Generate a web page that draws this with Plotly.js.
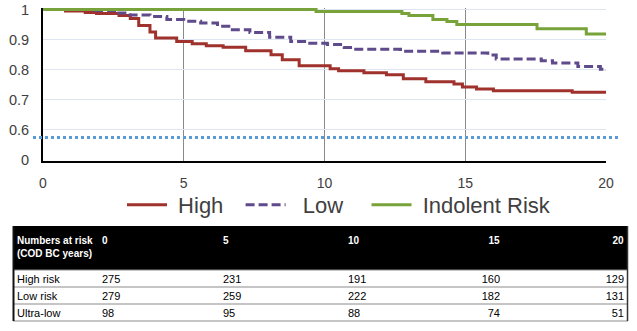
<!DOCTYPE html>
<html>
<head>
<meta charset="utf-8">
<script src="https://cdn.plot.ly/plotly-3.0.1.min.js"></script>
<style>
  html, body { margin: 0; padding: 0; background: #ffffff; overflow: hidden; width: 637px; height: 331px; }
  #chart { width: 637px; height: 331px; overflow: hidden; }
</style>
</head>
<body>
<div id="chart"></div>
<script>
// ---- Survival curves (years, survival probability) ----
const highYears = [0, 0.8, 1.5, 1.9, 2.7, 3.1, 3.4, 3.8, 4.0, 4.75, 5.3, 5.8, 6.4, 7.2, 8.1, 8.5, 9.1, 10.2, 10.5, 11.4, 12.2, 12.8, 13.6, 14.6, 14.9, 15.4, 16.0, 18.8, 20];
const highSurv  = [1, 0.995, 0.99, 0.987, 0.98, 0.97, 0.947, 0.925, 0.905, 0.894, 0.886, 0.88, 0.875, 0.863, 0.85, 0.833, 0.813, 0.803, 0.797, 0.79, 0.783, 0.77, 0.76, 0.753, 0.743, 0.736, 0.73, 0.725, 0.725];

const lowYears = [0, 1.7, 2.6, 3.1, 3.8, 4.4, 5.0, 5.6, 6.2, 6.6, 7.35, 8.05, 8.8, 9.4, 10.1, 10.7, 11.0, 12.7, 14.2, 15.8, 16.1, 17.7, 18.1, 19.0, 19.8, 20];
const lowSurv  = [1, 0.997, 0.988, 0.982, 0.977, 0.967, 0.961, 0.955, 0.944, 0.933, 0.924, 0.908, 0.894, 0.888, 0.884, 0.874, 0.868, 0.861, 0.856, 0.849, 0.836, 0.83, 0.822, 0.811, 0.802, 0.797];

const indolentYears = [0, 9.7, 12.75, 13.0, 13.85, 14.35, 14.7, 17.55, 19.3, 20];
const indolentSurv  = [1, 0.993, 0.987, 0.98, 0.967, 0.96, 0.95, 0.936, 0.919, 0.919];

const seriesNames = ["High", "Low", "Indolent Risk"];
const referenceLevel = [0.575];

// ---- Axis ticks ----
const xTickVals = [0, 5, 10, 15, 20];
const yTickVals = [0.5, 0.6, 0.7, 0.8, 0.9, 1.0];
const yTickText = ["0", "0.6", "0.7", "0.8", "0.9", "1"];

// ---- Numbers at risk table ----
const tableHeader = ["Numbers at risk<br>(COD BC years)", "0", "5", "10", "15", "20"];
const rowLabels = ["High risk", "Low risk", "Ultra-low"];
const atRiskHigh = [275, 231, 191, 160, 129];
const atRiskLow = [279, 259, 222, 182, 131];
const atRiskUltra = [98, 95, 88, 74, 51];

// ---- build ----
const W = 637, H = 331;
const px = v => v / W;
const py = v => 1 - v / H;
const NB = "\u00a0";

const colors = ["#A0322D", "#5F4A8B", "#77A33A"];
// legend label padding (spacing only)
const legendPad = [[1, 2], [2, 3], [1, 0]];
const legendLabel = i => NB.repeat(legendPad[i][0]) + seriesNames[i] + NB.repeat(legendPad[i][1]);

const traces = [
  { x: highYears, y: highSurv, name: legendLabel(0), type: "scatter", mode: "lines",
    line: { shape: "hv", color: colors[0], width: 3 } },
  { x: lowYears, y: lowSurv, name: legendLabel(1), type: "scatter", mode: "lines",
    line: { shape: "hv", color: colors[1], width: 3, dash: "9px,4px" } },
  { x: indolentYears, y: indolentSurv, name: legendLabel(2), type: "scatter", mode: "lines",
    line: { shape: "hv", color: colors[2], width: 3 } }
];

// table columns (column-major)
const rowsData = [atRiskHigh, atRiskLow, atRiskUltra];
const cellCols = [rowLabels];
for (let c = 0; c < tableHeader.length - 1; c++) {
  cellCols.push(rowsData.map(r => String(r[c])));
}
const tblFont = "Liberation Sans, Arial, sans-serif";
const tblLeft = 9, tblRight = 632, tblTop = 227, tblBottom = 326;
traces.push({
  type: "table",
  domain: { x: [px(tblLeft), px(tblRight)], y: [py(tblBottom), py(tblTop)] },
  columnwidth: [85, 121, 125, 100, 68, 124],
  header: {
    values: tableHeader.map(h => "<b>" + h.split("<br>").join("</b><br><b>") + "</b>"),
    align: ["left", "left", "left", "left", "right", "right"],
    height: 37,
    fill: { color: "rgba(0,0,0,0)" },
    line: { width: 0, color: "rgba(0,0,0,0)" },
    font: { family: tblFont, size: 10, color: "#ffffff" }
  },
  cells: {
    values: cellCols,
    align: ["left", "left", "left", "left", "right", "right"],
    height: 17,
    fill: { color: "rgba(0,0,0,0)" },
    line: { width: 0, color: "rgba(0,0,0,0)" },
    font: { family: tblFont, size: 11, color: "#000000" }
  }
});

const shapes = [
  { type: "line", xref: "paper", yref: "y", x0: px(33), x1: px(620), y0: referenceLevel[0], y1: referenceLevel[0],
    line: { color: "#5B9BD5", width: 3, dash: "dot" } },
  { type: "rect", xref: "paper", yref: "paper", layer: "below", x0: px(13), x1: px(628), y0: py(270), y1: py(226),
    fillcolor: "#000000", line: { width: 0 } }
];
// table borders
const rowLines = [270, 287, 304, 321];
rowLines.forEach(yv => shapes.push({ type: "line", xref: "paper", yref: "paper",
  x0: px(13), x1: px(628), y0: py(yv), y1: py(yv), line: { color: "#8c8c8c", width: 1.2 } }));
shapes.push({ type: "line", xref: "paper", yref: "paper", x0: px(13.5), x1: px(13.5), y0: py(226), y1: py(321),
  line: { color: "#111111", width: 2 } });
shapes.push({ type: "line", xref: "paper", yref: "paper", x0: px(627.5), x1: px(627.5), y0: py(226), y1: py(321),
  line: { color: "#333333", width: 1.5 } });

const layout = {
  width: W, height: H,
  margin: { l: 0, r: 0, t: 0, b: 0, autoexpand: false },
  paper_bgcolor: "#ffffff",
  plot_bgcolor: "#ffffff",
  showlegend: true,
  font: { family: "Liberation Sans, Arial, sans-serif", color: "#404040" },
  xaxis: {
    domain: [px(43), px(606)],
    range: [0, 20],
    tickvals: xTickVals,
    showgrid: true, gridcolor: "#8a8a8a", gridwidth: 1,
    showline: true, linecolor: "#000000", linewidth: 2,
    zeroline: false,
    ticks: "", ticklabelstandoff: 8,
    tickfont: { size: 14, color: "#404040" }
  },
  yaxis: {
    domain: [py(161), py(8)],
    range: [0.497, 1.005],
    tickvals: yTickVals, ticktext: yTickText,
    showgrid: true, gridcolor: "#dde6f0", gridwidth: 1,
    showline: true, linecolor: "#000000", linewidth: 2,
    zeroline: false,
    ticks: "", ticklabelstandoff: 9,
    tickfont: { size: 14.5, color: "#404040" }
  },
  legend: {
    orientation: "h",
    x: px(122), xanchor: "left",
    y: py(184), yanchor: "top",
    itemwidth: 40,
    font: { size: 22, color: "#404040" },
    bgcolor: "rgba(0,0,0,0)",
    traceorder: "normal"
  },
  shapes: shapes
};

Plotly.newPlot("chart", traces, layout, { staticPlot: true, displayModeBar: false });
</script>
</body>
</html>
